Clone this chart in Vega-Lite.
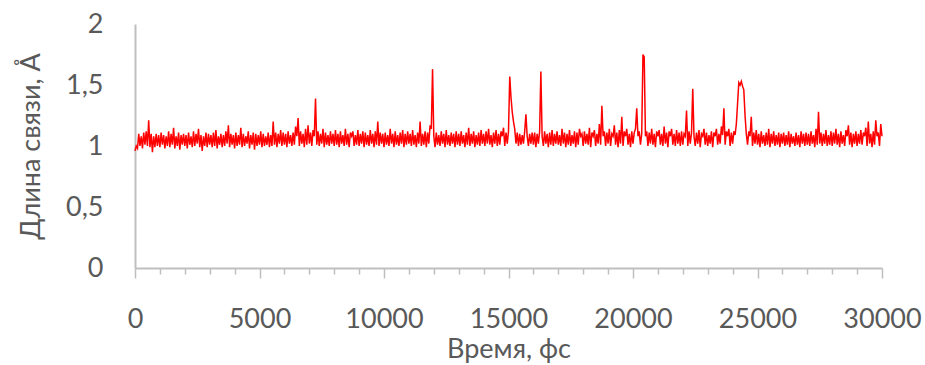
{
"$schema": "https://vega.github.io/schema/vega-lite/v6.json",
"width": 747, "height": 244,
"autosize": "none",
"padding": {"left": 135, "top": 24, "right": 43, "bottom": 97},
"background": "white",
"config": {"view": {"stroke": null}, "axis": {"labelFont": "Lato", "titleFont": "Lato", "labelColor": "#595959", "titleColor": "#595959", "labelFontSize": 27, "titleFontSize": 27, "titleFontWeight": "normal"}},
"data": {"values": [
{"t":0,"v":0.96},{"t":50,"v":1.00},{"t":100,"v":0.98},{"t":150,"v":1.10},{"t":200,"v":1.00},{"t":250,"v":1.08},{"t":300,"v":0.98},{"t":350,"v":1.11},{"t":400,"v":1.01},{"t":450,"v":1.12},{"t":500,"v":1.00},{"t":550,"v":1.21},{"t":600,"v":0.99},{"t":650,"v":1.10},{"t":700,"v":0.95},{"t":750,"v":1.08},{"t":800,"v":0.99},{"t":850,"v":1.10},{"t":900,"v":1.00},{"t":950,"v":1.09},
{"t":1000,"v":0.99},{"t":1050,"v":1.11},{"t":1100,"v":1.01},{"t":1150,"v":1.09},{"t":1200,"v":0.98},{"t":1250,"v":1.08},{"t":1300,"v":1.00},{"t":1350,"v":1.12},{"t":1400,"v":0.99},{"t":1450,"v":1.10},{"t":1500,"v":1.01},{"t":1550,"v":1.15},{"t":1600,"v":0.98},{"t":1650,"v":1.08},{"t":1700,"v":1.00},{"t":1750,"v":1.11},{"t":1800,"v":0.97},{"t":1850,"v":1.09},{"t":1900,"v":1.01},{"t":1950,"v":1.10},
{"t":2000,"v":1.00},{"t":2050,"v":1.09},{"t":2100,"v":0.98},{"t":2150,"v":1.11},{"t":2200,"v":1.01},{"t":2250,"v":1.08},{"t":2300,"v":0.99},{"t":2350,"v":1.12},{"t":2400,"v":1.00},{"t":2450,"v":1.10},{"t":2500,"v":1.02},{"t":2550,"v":1.14},{"t":2600,"v":0.99},{"t":2650,"v":1.09},{"t":2700,"v":0.96},{"t":2750,"v":1.08},{"t":2800,"v":1.00},{"t":2850,"v":1.11},{"t":2900,"v":0.99},{"t":2950,"v":1.10},
{"t":3000,"v":1.01},{"t":3050,"v":1.09},{"t":3100,"v":0.99},{"t":3150,"v":1.11},{"t":3200,"v":1.00},{"t":3250,"v":1.13},{"t":3300,"v":0.98},{"t":3350,"v":1.08},{"t":3400,"v":1.01},{"t":3450,"v":1.10},{"t":3500,"v":0.99},{"t":3550,"v":1.09},{"t":3600,"v":1.00},{"t":3650,"v":1.12},{"t":3700,"v":1.02},{"t":3750,"v":1.17},{"t":3800,"v":0.99},{"t":3850,"v":1.10},{"t":3900,"v":1.01},{"t":3950,"v":1.09},
{"t":4000,"v":0.98},{"t":4050,"v":1.11},{"t":4100,"v":1.00},{"t":4150,"v":1.09},{"t":4200,"v":1.01},{"t":4250,"v":1.15},{"t":4300,"v":0.99},{"t":4350,"v":1.10},{"t":4400,"v":1.00},{"t":4450,"v":1.08},{"t":4500,"v":1.02},{"t":4550,"v":1.12},{"t":4600,"v":0.98},{"t":4650,"v":1.09},{"t":4700,"v":1.01},{"t":4750,"v":1.11},{"t":4800,"v":0.97},{"t":4850,"v":1.10},{"t":4900,"v":1.00},{"t":4950,"v":1.09},
{"t":5000,"v":1.01},{"t":5050,"v":1.12},{"t":5100,"v":0.99},{"t":5150,"v":1.10},{"t":5200,"v":1.00},{"t":5250,"v":1.08},{"t":5300,"v":1.01},{"t":5350,"v":1.11},{"t":5400,"v":0.99},{"t":5450,"v":1.09},{"t":5500,"v":1.00},{"t":5550,"v":1.20},{"t":5600,"v":1.01},{"t":5650,"v":1.11},{"t":5700,"v":0.99},{"t":5750,"v":1.10},{"t":5800,"v":1.02},{"t":5850,"v":1.13},{"t":5900,"v":1.00},{"t":5950,"v":1.11},
{"t":6000,"v":1.01},{"t":6050,"v":1.10},{"t":6100,"v":0.99},{"t":6150,"v":1.12},{"t":6200,"v":1.02},{"t":6250,"v":1.09},{"t":6300,"v":1.00},{"t":6350,"v":1.11},{"t":6400,"v":1.01},{"t":6450,"v":1.16},{"t":6500,"v":1.08},{"t":6550,"v":1.23},{"t":6600,"v":1.00},{"t":6650,"v":1.12},{"t":6700,"v":1.02},{"t":6750,"v":1.10},{"t":6800,"v":0.99},{"t":6850,"v":1.14},{"t":6900,"v":1.01},{"t":6950,"v":1.17},
{"t":7000,"v":1.02},{"t":7050,"v":1.11},{"t":7100,"v":1.00},{"t":7150,"v":1.13},{"t":7200,"v":1.08},{"t":7250,"v":1.39},{"t":7300,"v":1.01},{"t":7350,"v":1.12},{"t":7400,"v":1.00},{"t":7450,"v":1.10},{"t":7500,"v":1.02},{"t":7550,"v":1.14},{"t":7600,"v":0.99},{"t":7650,"v":1.11},{"t":7700,"v":1.01},{"t":7750,"v":1.09},{"t":7800,"v":1.00},{"t":7850,"v":1.12},{"t":7900,"v":1.02},{"t":7950,"v":1.10},
{"t":8000,"v":1.00},{"t":8050,"v":1.13},{"t":8100,"v":1.01},{"t":8150,"v":1.10},{"t":8200,"v":0.99},{"t":8250,"v":1.12},{"t":8300,"v":1.02},{"t":8350,"v":1.09},{"t":8400,"v":1.00},{"t":8450,"v":1.14},{"t":8500,"v":1.01},{"t":8550,"v":1.10},{"t":8600,"v":0.99},{"t":8650,"v":1.11},{"t":8700,"v":1.08},{"t":8750,"v":1.12},{"t":8800,"v":1.00},{"t":8850,"v":1.09},{"t":8900,"v":1.01},{"t":8950,"v":1.13},
{"t":9000,"v":1.00},{"t":9050,"v":1.10},{"t":9100,"v":1.02},{"t":9150,"v":1.12},{"t":9200,"v":0.99},{"t":9250,"v":1.11},{"t":9300,"v":1.01},{"t":9350,"v":1.09},{"t":9400,"v":1.00},{"t":9450,"v":1.13},{"t":9500,"v":1.02},{"t":9550,"v":1.10},{"t":9600,"v":0.99},{"t":9650,"v":1.12},{"t":9700,"v":1.01},{"t":9750,"v":1.20},{"t":9800,"v":1.00},{"t":9850,"v":1.11},{"t":9900,"v":1.02},{"t":9950,"v":1.10},
{"t":10000,"v":0.99},{"t":10050,"v":1.11},{"t":10100,"v":1.01},{"t":10150,"v":1.09},{"t":10200,"v":1.00},{"t":10250,"v":1.14},{"t":10300,"v":1.02},{"t":10350,"v":1.10},{"t":10400,"v":0.99},{"t":10450,"v":1.12},{"t":10500,"v":1.01},{"t":10550,"v":1.09},{"t":10600,"v":1.00},{"t":10650,"v":1.11},{"t":10700,"v":1.02},{"t":10750,"v":1.13},{"t":10800,"v":0.99},{"t":10850,"v":1.10},{"t":10900,"v":1.01},{"t":10950,"v":1.12},
{"t":11000,"v":1.02},{"t":11050,"v":1.10},{"t":11100,"v":1.00},{"t":11150,"v":1.13},{"t":11200,"v":1.01},{"t":11250,"v":1.09},{"t":11300,"v":0.99},{"t":11350,"v":1.11},{"t":11400,"v":1.02},{"t":11450,"v":1.20},{"t":11500,"v":1.00},{"t":11550,"v":1.10},{"t":11600,"v":1.01},{"t":11650,"v":1.12},{"t":11700,"v":0.99},{"t":11750,"v":1.11},{"t":11800,"v":1.02},{"t":11850,"v":1.17},{"t":11900,"v":1.14},{"t":11950,"v":1.63},
{"t":12000,"v":1.08},{"t":12050,"v":0.99},{"t":12100,"v":1.11},{"t":12150,"v":1.01},{"t":12200,"v":1.09},{"t":12250,"v":1.00},{"t":12300,"v":1.12},{"t":12350,"v":1.02},{"t":12400,"v":1.10},{"t":12450,"v":0.99},{"t":12500,"v":1.13},{"t":12550,"v":1.01},{"t":12600,"v":1.09},{"t":12650,"v":1.00},{"t":12700,"v":1.11},{"t":12750,"v":1.02},{"t":12800,"v":1.10},{"t":12850,"v":0.99},{"t":12900,"v":1.12},{"t":12950,"v":1.01},
{"t":13000,"v":1.10},{"t":13050,"v":1.00},{"t":13100,"v":1.12},{"t":13150,"v":1.02},{"t":13200,"v":1.09},{"t":13250,"v":0.99},{"t":13300,"v":1.11},{"t":13350,"v":1.01},{"t":13400,"v":1.15},{"t":13450,"v":1.00},{"t":13500,"v":1.10},{"t":13550,"v":1.02},{"t":13600,"v":1.12},{"t":13650,"v":0.99},{"t":13700,"v":1.09},{"t":13750,"v":1.01},{"t":13800,"v":1.11},{"t":13850,"v":1.00},{"t":13900,"v":1.13},{"t":13950,"v":1.02},
{"t":14000,"v":1.10},{"t":14050,"v":1.00},{"t":14100,"v":1.12},{"t":14150,"v":1.02},{"t":14200,"v":1.14},{"t":14250,"v":1.01},{"t":14300,"v":1.09},{"t":14350,"v":0.99},{"t":14400,"v":1.11},{"t":14450,"v":1.02},{"t":14500,"v":1.13},{"t":14550,"v":1.00},{"t":14600,"v":1.10},{"t":14650,"v":1.01},{"t":14700,"v":1.12},{"t":14750,"v":1.08},{"t":14800,"v":1.15},{"t":14850,"v":1.00},{"t":14900,"v":1.11},{"t":14950,"v":1.02},
{"t":15000,"v":1.12},{"t":15050,"v":1.57},{"t":15100,"v":1.40},{"t":15150,"v":1.28},{"t":15200,"v":1.20},{"t":15250,"v":1.14},{"t":15300,"v":1.02},{"t":15350,"v":1.11},{"t":15400,"v":1.00},{"t":15450,"v":1.10},{"t":15500,"v":1.01},{"t":15550,"v":1.09},{"t":15600,"v":1.02},{"t":15650,"v":1.12},{"t":15700,"v":1.26},{"t":15750,"v":1.08},{"t":15800,"v":1.00},{"t":15850,"v":1.10},{"t":15900,"v":1.02},{"t":15950,"v":1.11},
{"t":16000,"v":1.01},{"t":16050,"v":1.11},{"t":16100,"v":0.99},{"t":16150,"v":1.10},{"t":16200,"v":1.02},{"t":16250,"v":1.12},{"t":16300,"v":1.61},{"t":16350,"v":1.08},{"t":16400,"v":1.00},{"t":16450,"v":1.12},{"t":16500,"v":1.02},{"t":16550,"v":1.10},{"t":16600,"v":0.99},{"t":16650,"v":1.11},{"t":16700,"v":1.01},{"t":16750,"v":1.13},{"t":16800,"v":1.00},{"t":16850,"v":1.10},{"t":16900,"v":1.02},{"t":16950,"v":1.12},
{"t":17000,"v":1.01},{"t":17050,"v":1.09},{"t":17100,"v":1.00},{"t":17150,"v":1.14},{"t":17200,"v":1.02},{"t":17250,"v":1.11},{"t":17300,"v":0.99},{"t":17350,"v":1.10},{"t":17400,"v":1.01},{"t":17450,"v":1.13},{"t":17500,"v":1.00},{"t":17550,"v":1.09},{"t":17600,"v":1.02},{"t":17650,"v":1.12},{"t":17700,"v":0.99},{"t":17750,"v":1.11},{"t":17800,"v":1.01},{"t":17850,"v":1.14},{"t":17900,"v":1.08},{"t":17950,"v":1.10},
{"t":18000,"v":1.00},{"t":18050,"v":1.12},{"t":18100,"v":1.02},{"t":18150,"v":1.10},{"t":18200,"v":1.01},{"t":18250,"v":1.15},{"t":18300,"v":0.99},{"t":18350,"v":1.11},{"t":18400,"v":1.08},{"t":18450,"v":1.13},{"t":18500,"v":1.00},{"t":18550,"v":1.10},{"t":18600,"v":1.02},{"t":18650,"v":1.18},{"t":18700,"v":1.01},{"t":18750,"v":1.33},{"t":18800,"v":1.08},{"t":18850,"v":1.12},{"t":18900,"v":1.00},{"t":18950,"v":1.11},
{"t":19000,"v":1.02},{"t":19050,"v":1.14},{"t":19100,"v":1.00},{"t":19150,"v":1.10},{"t":19200,"v":1.08},{"t":19250,"v":1.17},{"t":19300,"v":1.01},{"t":19350,"v":1.11},{"t":19400,"v":0.99},{"t":19450,"v":1.13},{"t":19500,"v":1.02},{"t":19550,"v":1.24},{"t":19600,"v":1.00},{"t":19650,"v":1.12},{"t":19700,"v":1.08},{"t":19750,"v":1.14},{"t":19800,"v":1.01},{"t":19850,"v":1.10},{"t":19900,"v":0.99},{"t":19950,"v":1.12},
{"t":20000,"v":1.02},{"t":20050,"v":1.11},{"t":20100,"v":1.14},{"t":20150,"v":1.31},{"t":20200,"v":1.08},{"t":20250,"v":1.12},{"t":20300,"v":1.01},{"t":20350,"v":1.10},{"t":20400,"v":1.75},{"t":20450,"v":1.73},{"t":20500,"v":1.08},{"t":20550,"v":1.12},{"t":20600,"v":1.00},{"t":20650,"v":1.11},{"t":20700,"v":1.02},{"t":20750,"v":1.14},{"t":20800,"v":1.01},{"t":20850,"v":1.10},{"t":20900,"v":0.99},{"t":20950,"v":1.12},
{"t":21000,"v":1.08},{"t":21050,"v":1.13},{"t":21100,"v":1.01},{"t":21150,"v":1.10},{"t":21200,"v":1.00},{"t":21250,"v":1.16},{"t":21300,"v":1.02},{"t":21350,"v":1.11},{"t":21400,"v":0.99},{"t":21450,"v":1.12},{"t":21500,"v":1.08},{"t":21550,"v":1.14},{"t":21600,"v":1.01},{"t":21650,"v":1.10},{"t":21700,"v":1.00},{"t":21750,"v":1.13},{"t":21800,"v":1.02},{"t":21850,"v":1.11},{"t":21900,"v":1.00},{"t":21950,"v":1.12},
{"t":22000,"v":1.01},{"t":22050,"v":1.10},{"t":22100,"v":1.08},{"t":22150,"v":1.29},{"t":22200,"v":1.00},{"t":22250,"v":1.12},{"t":22300,"v":1.02},{"t":22350,"v":1.11},{"t":22400,"v":1.47},{"t":22450,"v":1.08},{"t":22500,"v":1.00},{"t":22550,"v":1.11},{"t":22600,"v":1.02},{"t":22650,"v":1.13},{"t":22700,"v":0.99},{"t":22750,"v":1.10},{"t":22800,"v":1.08},{"t":22850,"v":1.14},{"t":22900,"v":1.01},{"t":22950,"v":1.11},
{"t":23000,"v":1.00},{"t":23050,"v":1.09},{"t":23100,"v":1.02},{"t":23150,"v":1.12},{"t":23200,"v":0.99},{"t":23250,"v":1.11},{"t":23300,"v":1.08},{"t":23350,"v":1.14},{"t":23400,"v":1.01},{"t":23450,"v":1.10},{"t":23500,"v":1.02},{"t":23550,"v":1.16},{"t":23600,"v":1.09},{"t":23650,"v":1.31},{"t":23700,"v":1.01},{"t":23750,"v":1.12},{"t":23800,"v":1.08},{"t":23850,"v":1.14},{"t":23900,"v":1.00},{"t":23950,"v":1.11},
{"t":24000,"v":1.02},{"t":24050,"v":1.12},{"t":24100,"v":1.09},{"t":24150,"v":1.18},{"t":24200,"v":1.35},{"t":24250,"v":1.52},{"t":24300,"v":1.50},{"t":24350,"v":1.53},{"t":24400,"v":1.49},{"t":24450,"v":1.46},{"t":24500,"v":1.25},{"t":24550,"v":1.10},{"t":24600,"v":1.01},{"t":24650,"v":1.12},{"t":24700,"v":1.08},{"t":24750,"v":1.24},{"t":24800,"v":1.00},{"t":24850,"v":1.11},{"t":24900,"v":1.02},{"t":24950,"v":1.13},
{"t":25000,"v":1.01},{"t":25050,"v":1.10},{"t":25100,"v":0.99},{"t":25150,"v":1.12},{"t":25200,"v":1.02},{"t":25250,"v":1.09},{"t":25300,"v":1.00},{"t":25350,"v":1.11},{"t":25400,"v":1.01},{"t":25450,"v":1.14},{"t":25500,"v":0.99},{"t":25550,"v":1.10},{"t":25600,"v":1.02},{"t":25650,"v":1.12},{"t":25700,"v":1.00},{"t":25750,"v":1.09},{"t":25800,"v":1.01},{"t":25850,"v":1.11},{"t":25900,"v":0.99},{"t":25950,"v":1.10},
{"t":26000,"v":1.02},{"t":26050,"v":1.11},{"t":26100,"v":1.00},{"t":26150,"v":1.09},{"t":26200,"v":1.01},{"t":26250,"v":1.12},{"t":26300,"v":0.99},{"t":26350,"v":1.10},{"t":26400,"v":1.02},{"t":26450,"v":1.08},{"t":26500,"v":1.00},{"t":26550,"v":1.11},{"t":26600,"v":1.01},{"t":26650,"v":1.09},{"t":26700,"v":0.99},{"t":26750,"v":1.12},{"t":26800,"v":1.02},{"t":26850,"v":1.10},{"t":26900,"v":1.00},{"t":26950,"v":1.11},
{"t":27000,"v":1.01},{"t":27050,"v":1.10},{"t":27100,"v":1.00},{"t":27150,"v":1.12},{"t":27200,"v":1.02},{"t":27250,"v":1.09},{"t":27300,"v":0.99},{"t":27350,"v":1.14},{"t":27400,"v":1.01},{"t":27450,"v":1.28},{"t":27500,"v":1.02},{"t":27550,"v":1.11},{"t":27600,"v":1.00},{"t":27650,"v":1.10},{"t":27700,"v":1.02},{"t":27750,"v":1.13},{"t":27800,"v":1.00},{"t":27850,"v":1.09},{"t":27900,"v":1.01},{"t":27950,"v":1.12},
{"t":28000,"v":1.00},{"t":28050,"v":1.11},{"t":28100,"v":1.02},{"t":28150,"v":1.14},{"t":28200,"v":1.01},{"t":28250,"v":1.10},{"t":28300,"v":0.99},{"t":28350,"v":1.12},{"t":28400,"v":1.02},{"t":28450,"v":1.09},{"t":28500,"v":1.00},{"t":28550,"v":1.13},{"t":28600,"v":1.08},{"t":28650,"v":1.17},{"t":28700,"v":1.01},{"t":28750,"v":1.11},{"t":28800,"v":0.99},{"t":28850,"v":1.10},{"t":28900,"v":1.02},{"t":28950,"v":1.12},
{"t":29000,"v":1.00},{"t":29050,"v":1.10},{"t":29100,"v":1.02},{"t":29150,"v":1.13},{"t":29200,"v":1.01},{"t":29250,"v":1.11},{"t":29300,"v":1.08},{"t":29350,"v":1.15},{"t":29400,"v":1.00},{"t":29450,"v":1.20},{"t":29500,"v":1.02},{"t":29550,"v":1.10},{"t":29600,"v":0.99},{"t":29650,"v":1.12},{"t":29700,"v":1.01},{"t":29750,"v":1.21},{"t":29800,"v":1.08},{"t":29850,"v":1.11},{"t":29900,"v":1.00},{"t":29950,"v":1.18},
{"t":30000,"v":1.08}
]},
"mark": {"type": "line", "color": "#ff0000", "strokeWidth": 1.5},
"encoding": {
"x": {"field": "t", "type": "quantitative", "scale": {"domain": [0, 30000], "nice": false},
 "axis": {"title": "Время, фс", "values": [0,1000,2000,3000,4000,5000,6000,7000,8000,9000,10000,11000,12000,13000,14000,15000,16000,17000,18000,19000,20000,21000,22000,23000,24000,25000,26000,27000,28000,29000,30000],
 "format": "d", "labelExpr": "datum.value % 5000 === 0 ? datum.label : ''", "labelFlush": false, "labelOverlap": false,
 "grid": false, "domainColor": "#bfbfbf", "domainWidth": 2, "tickColor": "#bfbfbf", "tickWidth": 1.5,
 "tickSize": {"condition": {"test": "datum.value % 5000 === 0", "value": 10}, "value": 6},
 "labelPadding": 28, "titlePadding": 4}},
"y": {"field": "v", "type": "quantitative", "scale": {"domain": [0, 2], "nice": false},
 "axis": {"title": "Длина связи, Å", "values": [0, 0.5, 1, 1.5, 2], "format": "~g", "labelExpr": "replace(datum.label, '.', ',')",
 "grid": false, "ticks": false, "domainColor": "#bfbfbf", "domainWidth": 2, "labelPadding": 32, "titlePadding": 20}}
}
}
